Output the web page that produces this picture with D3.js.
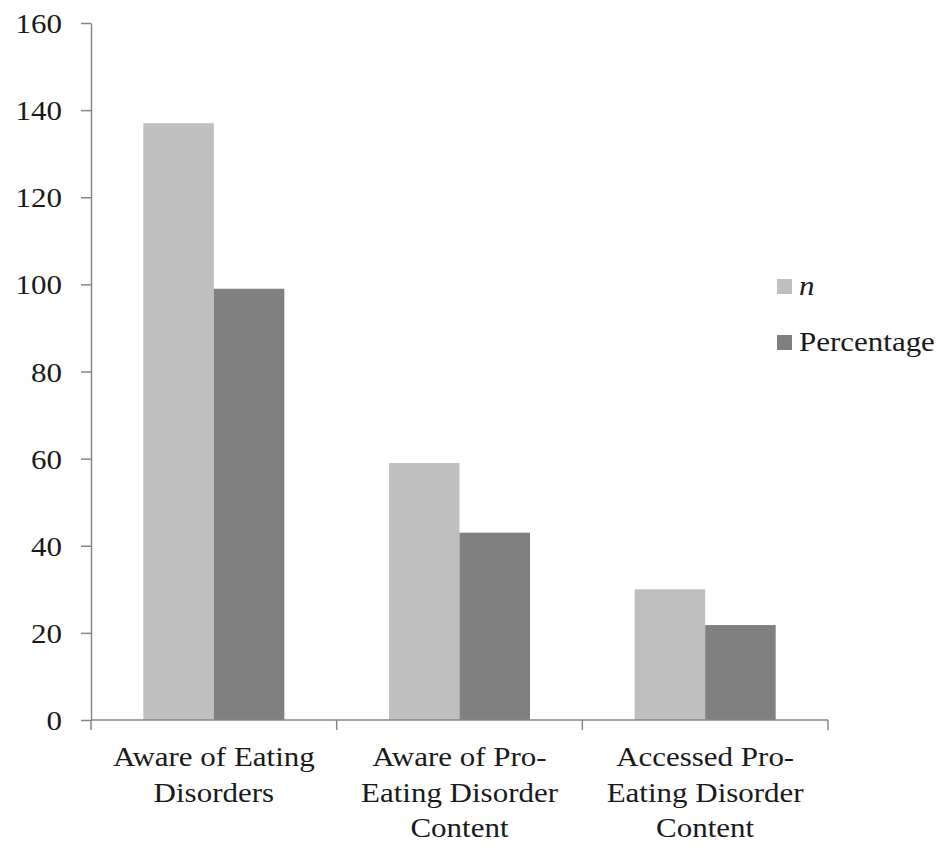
<!DOCTYPE html>
<html>
  <head>
    <meta charset="utf-8">
    <title>Eating Disorder Awareness</title>
    <script src="https://cdn.jsdelivr.net/npm/d3@7"></script>
    <style>
      body { margin: 0; background: #fff; }
      svg { display: block; }
      text { font-family: "Liberation Serif", "Times New Roman", serif; fill: #1a1a1a; }
    </style>
  </head>
  <body>
    <script>
    // data
    const categories = ["Aware of Eating Disorders", "Aware of Pro-Eating Disorder Content", "Accessed Pro-Eating Disorder Content"];
    const categoryLines = [
      ["Aware of Eating", "Disorders"],
      ["Aware of Pro-", "Eating Disorder", "Content"],
      ["Accessed Pro-", "Eating Disorder", "Content"]
    ];
    const seriesNames = ["n", "Percentage"];
    const nValues = [137, 59, 30];
    const pctValues = [99, 43, 21.8];
    const yTicks = [0, 20, 40, 60, 80, 100, 120, 140, 160];

    const colors = {n: "#bfbfbf", Percentage: "#808080"};
    const axisColor = "#868686";
    const stretch = 1.107; // text looks a bit wide in the original

    const width = 943, height = 848;
    const margin = {top: 23, left: 91, right: 115, bottom: 128};

    const svg = d3.select("body").append("svg")
      .attr("width", width)
      .attr("height", height);

    const y = d3.scaleLinear().domain([0, 160]).range([height - margin.bottom, margin.top]);
    const x0 = d3.scaleBand().domain(categories).range([margin.left, width - margin.right]);
    const pad = x0.bandwidth() * 0.213;
    const x1 = d3.scaleBand().domain(seriesNames).range([pad, x0.bandwidth() - pad]);

    const rows = categories.map((c, i) => ({cat: c, n: nValues[i], Percentage: pctValues[i]}));

    // bars
    const groups = svg.selectAll(".group")
      .data(rows).enter()
      .append("g")
      .attr("class", "group")
      .attr("transform", d => "translate(" + x0(d.cat) + ",0)");

    groups.selectAll("rect")
      .data(d => seriesNames.map(s => ({key: s, value: d[s]})))
      .enter().append("rect")
      .attr("x", d => x1(d.key))
      .attr("y", d => y(d.value))
      .attr("width", x1.bandwidth())
      .attr("height", d => y(0) - y(d.value))
      .attr("fill", d => colors[d.key]);

    // y axis
    const yAxis = svg.append("g")
      .attr("transform", "translate(" + margin.left + ",0)")
      .call(d3.axisLeft(y).tickValues(yTicks).tickSize(10).tickSizeOuter(0));
    yAxis.select(".domain").attr("stroke", axisColor).attr("stroke-width", 1.5);
    yAxis.selectAll(".tick line").attr("stroke", axisColor).attr("stroke-width", 1.5);
    yAxis.selectAll(".tick text")
      .attr("x", null)
      .attr("dy", "0.34em")
      .attr("transform", "translate(-29,0) scale(" + stretch + ",1)")
      .style("font-size", "28px")
      .attr("fill", "#1a1a1a");

    // x axis: line plus ticks on the category boundaries
    const base = y(0);
    const xAxis = svg.append("g");
    xAxis.append("line")
      .attr("x1", x0.range()[0]).attr("x2", x0.range()[1])
      .attr("y1", base).attr("y2", base)
      .attr("stroke", axisColor).attr("stroke-width", 1.5);
    const edges = categories.map(c => x0(c)).concat([x0.range()[1]]);
    xAxis.selectAll(".xtick")
      .data(edges).enter()
      .append("line")
      .attr("x1", d => d).attr("x2", d => d)
      .attr("y1", base).attr("y2", base + 10)
      .attr("stroke", axisColor).attr("stroke-width", 1.5);

    // category labels, wrapped like the original
    const lineHeight = 35.5;
    categories.forEach((c, i) => {
      const cx = x0(c) + x0.bandwidth() / 2;
      categoryLines[i].forEach((t, j) => {
        svg.append("text")
          .attr("transform", "translate(" + cx + "," + (766 + j * lineHeight) + ") scale(" + stretch + ",1)")
          .attr("text-anchor", "middle")
          .style("font-size", "28px")
          .text(t);
      });
    });

    // legend
    const legend = svg.append("g").attr("transform", "translate(777,279)");
    const item = legend.selectAll(".item")
      .data(seriesNames).enter()
      .append("g")
      .attr("transform", (d, i) => "translate(0," + (i * 56) + ")");
    item.append("rect")
      .attr("width", 15).attr("height", 15)
      .attr("fill", d => colors[d]);
    item.append("text")
      .attr("transform", "translate(22,16) scale(" + stretch + ",1)")
      .style("font-size", "28px")
      .style("font-style", d => d === "n" ? "italic" : "normal")
      .text(d => d);
    </script>
  </body>
</html>
